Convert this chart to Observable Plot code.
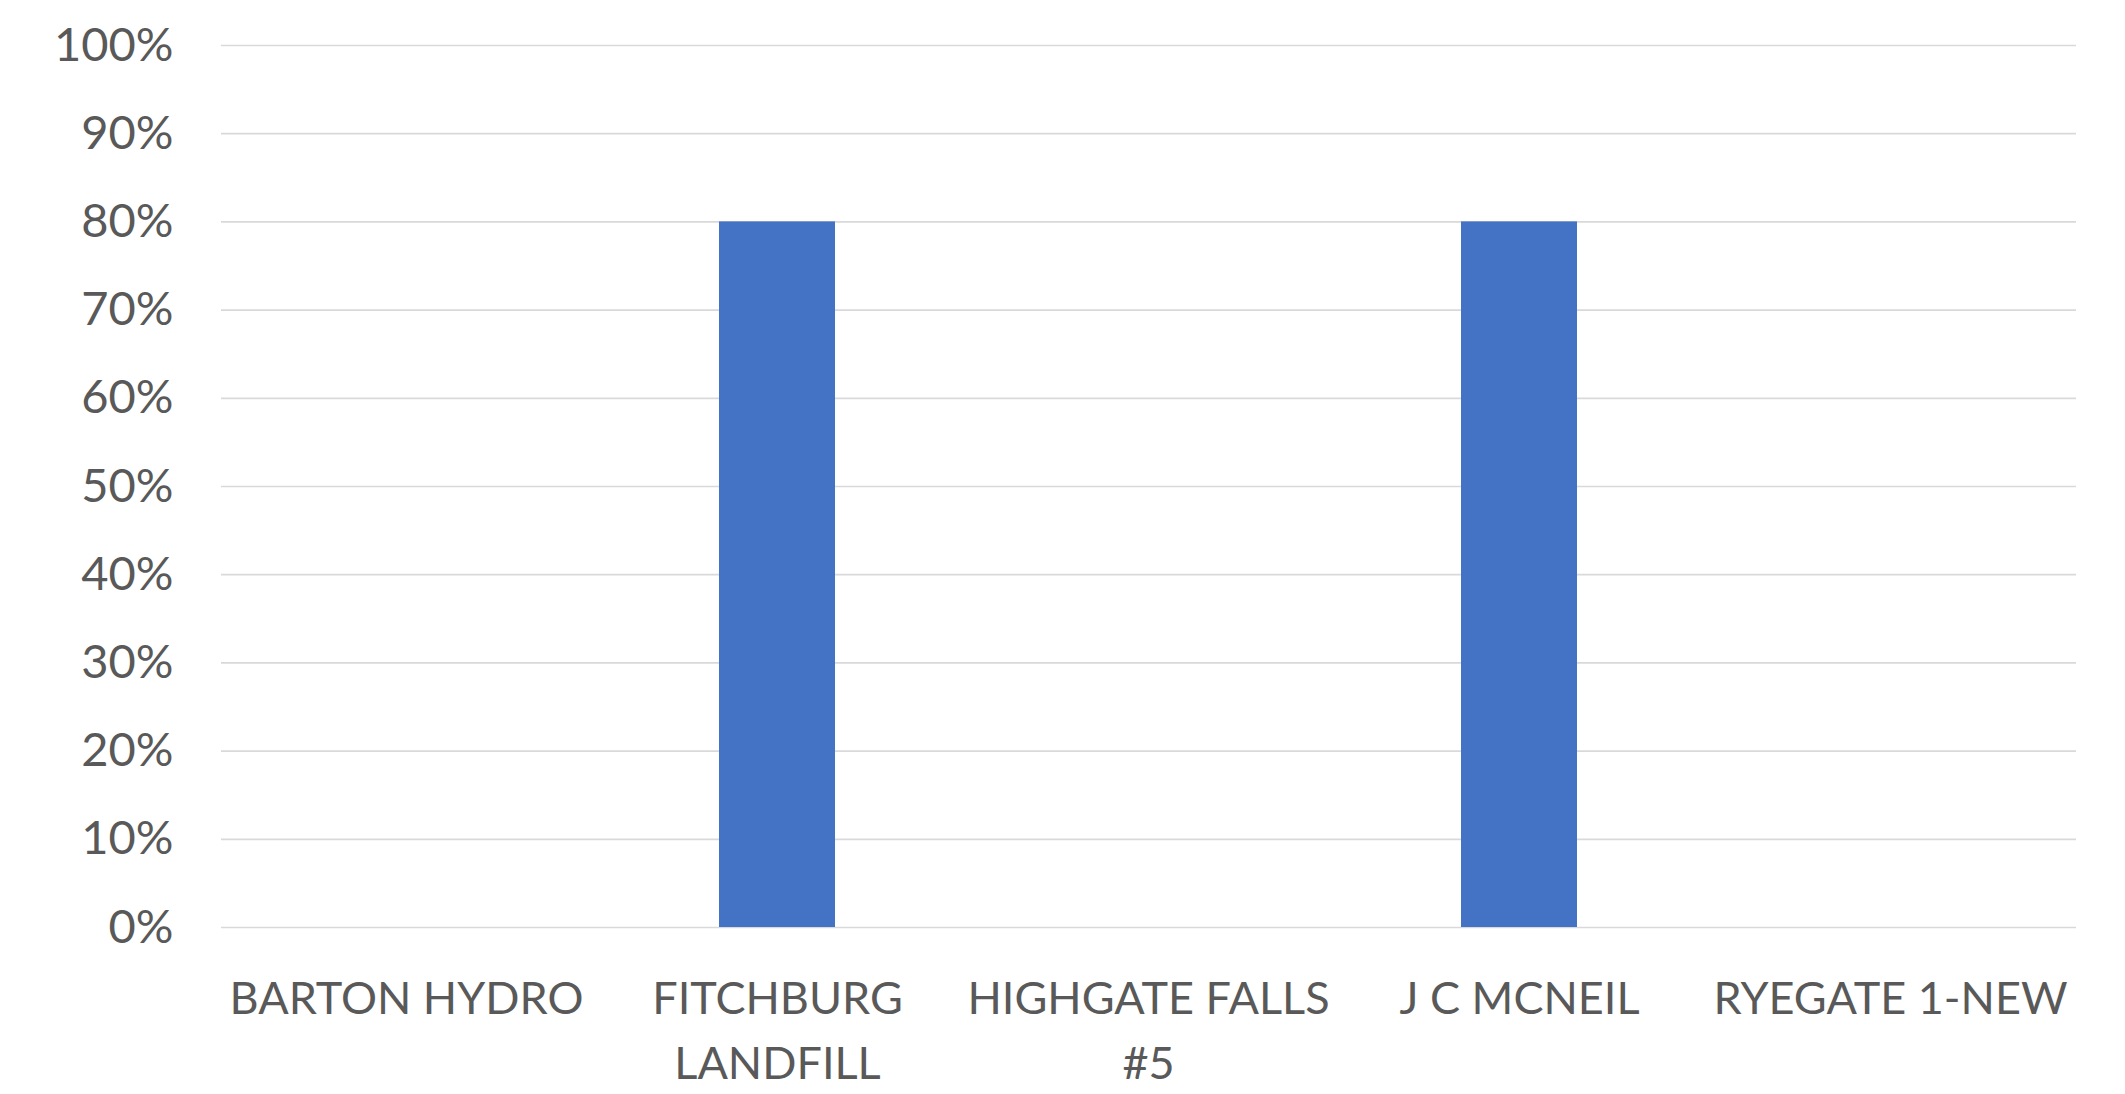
<!DOCTYPE html>
<html>
<head>
<meta charset="utf-8">
<script src="https://cdn.jsdelivr.net/npm/d3@7"></script>
<script src="https://cdn.jsdelivr.net/npm/@observablehq/plot@0.6"></script>
<style>
  html, body { margin: 0; padding: 0; background: #ffffff; }
  #chart { width: 2125px; height: 1094px; }
</style>
</head>
<body>
<div id="chart"></div>
<script>
const categories = ["BARTON HYDRO", "FITCHBURG LANDFILL", "HIGHGATE FALLS #5", "J C MCNEIL", "RYEGATE 1-NEW"];
const tickLabels = ["BARTON HYDRO", "FITCHBURG\nLANDFILL", "HIGHGATE FALLS\n#5", "J C MCNEIL", "RYEGATE 1-NEW"];
const values = [0, 0.8, 0, 0.8, 0];
const yTicks = [0, 0.1, 0.2, 0.3, 0.4, 0.5, 0.6, 0.7, 0.8, 0.9, 1.0];

const data = categories.map((c, i) => ({cat: c, value: values[i]}));

const yFontSize = 47;
const xFontSize = 45;
const textColor = "#595959";

const chart = Plot.plot({
  width: 2125,
  height: 1094,
  marginLeft: 221,
  marginRight: 49,
  marginTop: 45,
  marginBottom: 167,
  style: {fontFamily: "Lato, 'Open Sans', sans-serif", fontSize: yFontSize + "px", color: textColor, background: "#ffffff"},
  x: {domain: categories, paddingInner: 0.687, paddingOuter: 0.3435, label: null},
  y: {domain: [0, 1], label: null},
  marks: [
    Plot.gridY(yTicks, {stroke: "#d9d9d9", strokeOpacity: 1, strokeWidth: 1.7}),
    Plot.barY(data, {x: "cat", y: "value", fill: "#4472C4"}),
    Plot.axisY(yTicks, {
      tickSize: 0,
      tickPadding: 48,
      tickFormat: d3.format(".0%"),
      fontSize: yFontSize,
      fill: textColor,
      label: null
    }),
    Plot.axisX({
      tickSize: 0,
      tickPadding: 40,
      tickFormat: d => tickLabels[categories.indexOf(d)],
      fontSize: xFontSize,
      lineHeight: 65 / xFontSize,
      fill: textColor,
      label: null
    })
  ]
});

document.getElementById("chart").appendChild(chart);
</script>
</body>
</html>
